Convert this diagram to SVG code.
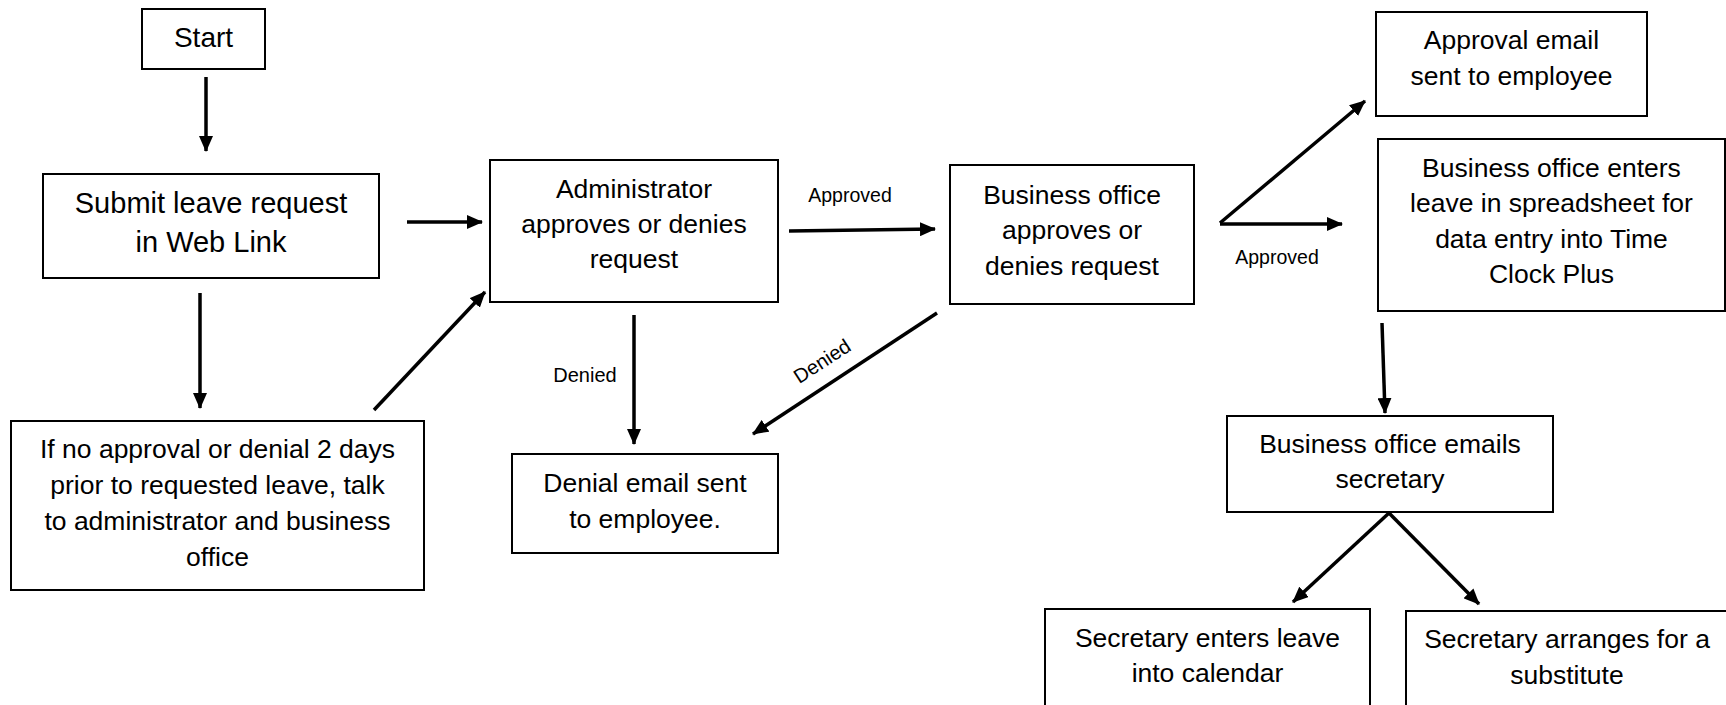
<svg xmlns="http://www.w3.org/2000/svg" width="1726" height="705" viewBox="0 0 1726 705">
<style>
.box{fill:#fff;stroke:#000;stroke-width:2}
.t{font-family:"Liberation Sans",Arial,sans-serif;font-size:26.5px;fill:#000;text-anchor:middle}
.big{font-size:29px}
.lbl{font-family:"Liberation Sans",Arial,sans-serif;font-size:19.5px;fill:#000;text-anchor:middle}
.c{stroke:#000;stroke-width:3.5;fill:none;marker-end:url(#ah)}
</style>
<defs>
<marker id="ah" markerUnits="userSpaceOnUse" markerWidth="16" markerHeight="14" refX="15" refY="7" orient="auto">
<path d="M0,0 L16,7 L0,14 z" fill="#000"/>
</marker>
</defs>
<rect width="1726" height="705" fill="#fff"/>
<g id="connectors">
<line class="c" x1="206" y1="77" x2="206" y2="151"/>
<line class="c" x1="407" y1="222" x2="482" y2="222"/>
<line class="c" x1="200" y1="293" x2="200" y2="408"/>
<line class="c" x1="374" y1="410" x2="485" y2="292"/>
<line class="c" x1="789" y1="231" x2="935" y2="229"/>
<line class="c" x1="634" y1="315" x2="634" y2="444"/>
<line class="c" x1="937" y1="313" x2="753" y2="434"/>
<line class="c" x1="1220" y1="223" x2="1365" y2="101"/>
<line class="c" x1="1220" y1="224" x2="1342" y2="224"/>
<line class="c" x1="1382" y1="323" x2="1385" y2="413"/>
<line class="c" x1="1389" y1="513" x2="1293" y2="602"/>
<line class="c" x1="1389" y1="513" x2="1479" y2="604"/>
<text class="lbl" x="850" y="202">Approved</text>
<text class="lbl" x="1277" y="264">Approved</text>
<text class="lbl" x="585" y="382" style="font-size:20px">Denied</text>
<text class="lbl" transform="translate(822,361) rotate(-33)" x="0" y="7" style="font-size:20px">Denied</text>
</g>
<g id="start">
<rect class="box" x="142" y="9" width="123" height="60"/>
<text class="t" x="203.5" y="47" style="font-size:28px">Start</text>
</g>
<g id="submit">
<rect class="box" x="43" y="174" width="336" height="104"/>
<text class="t big" x="211" y="213">Submit leave request</text>
<text class="t big" x="211" y="252">in Web Link</text>
</g>
<g id="noapproval">
<rect class="box" x="11" y="421" width="413" height="169"/>
<text class="t" x="217.5" y="458">If no approval or denial 2 days</text>
<text class="t" x="217.5" y="494">prior to requested leave, talk</text>
<text class="t" x="217.5" y="530">to administrator and business</text>
<text class="t" x="217.5" y="566">office</text>
</g>
<g id="admin">
<rect class="box" x="490" y="160" width="288" height="142"/>
<text class="t" x="634" y="198">Administrator</text>
<text class="t" x="634" y="233">approves or denies</text>
<text class="t" x="634" y="268">request</text>
</g>
<g id="business">
<rect class="box" x="950" y="165" width="244" height="139"/>
<text class="t" x="1072" y="204">Business office</text>
<text class="t" x="1072" y="239">approves or</text>
<text class="t" x="1072" y="275">denies request</text>
</g>
<g id="denial">
<rect class="box" x="512" y="454" width="266" height="99"/>
<text class="t" x="645" y="492">Denial email sent</text>
<text class="t" x="645" y="528">to employee.</text>
</g>
<g id="approval">
<rect class="box" x="1376" y="12" width="271" height="104"/>
<text class="t" x="1511.5" y="49">Approval email</text>
<text class="t" x="1511.5" y="85">sent to employee</text>
</g>
<g id="spreadsheet">
<rect class="box" x="1378" y="139" width="347" height="172"/>
<text class="t" x="1551.5" y="177">Business office enters</text>
<text class="t" x="1551.5" y="212">leave in spreadsheet for</text>
<text class="t" x="1551.5" y="248">data entry into Time</text>
<text class="t" x="1551.5" y="283">Clock Plus</text>
</g>
<g id="emailsecretary">
<rect class="box" x="1227" y="416" width="326" height="96"/>
<text class="t" x="1390" y="453">Business office emails</text>
<text class="t" x="1390" y="488">secretary</text>
</g>
<g id="calendar">
<rect class="box" x="1045" y="609" width="325" height="120"/>
<text class="t" x="1207.5" y="647">Secretary enters leave</text>
<text class="t" x="1207.5" y="682">into calendar</text>
</g>
<g id="substitute">
<rect class="box" x="1406" y="611" width="326" height="120"/>
<text class="t" x="1567" y="648">Secretary arranges for a</text>
<text class="t" x="1567" y="684">substitute</text>
</g>
</svg>
